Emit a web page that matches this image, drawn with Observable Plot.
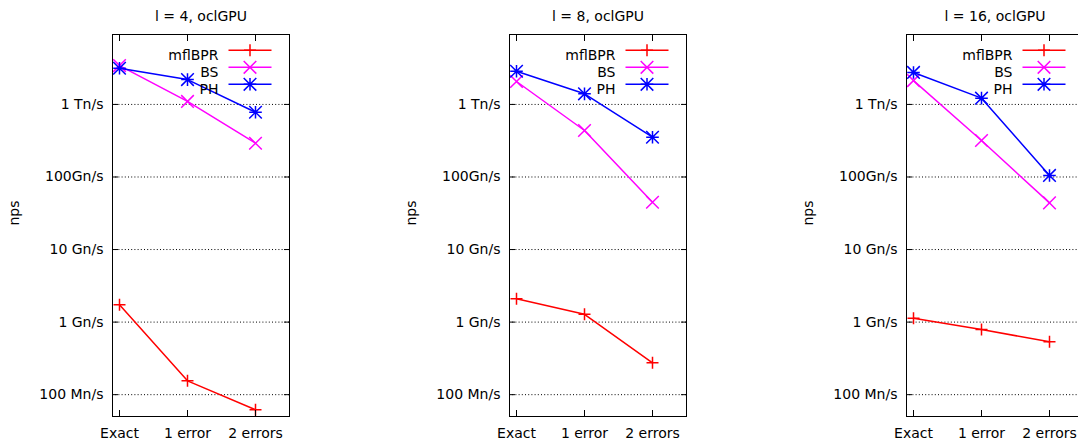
<!DOCTYPE html>
<html>
<head>
<meta charset="utf-8">
<script src="https://cdn.jsdelivr.net/npm/d3@7"></script>
<script src="https://cdn.jsdelivr.net/npm/@observablehq/plot@0.6"></script>
<style>
  html, body { margin: 0; padding: 0; background: white; }
  #wrap { position: relative; width: 1078px; height: 447px; overflow: hidden; background: white; }
  #wrap > div, #wrap > svg { position: absolute; top: 0; }
</style>
</head>
<body>
<div id="wrap"></div>
<script>
// ---- data ----
const categories = ["Exact", "1 error", "2 errors"];
const panelTitles = ["l = 4, oclGPU", "l = 8, oclGPU", "l = 16, oclGPU"];
const seriesNames = ["mflBPR", "BS", "PH"];
const seriesColors = ["#ff0000", "#ff00ff", "#0000ff"];

const l4_mflBPR = [1.73e9, 1.55e8, 6.2e7];
const l4_BS     = [3.43e12, 1.1e12, 2.92e11];
const l4_PH     = [3.15e12, 2.2e12, 7.8e11];

const l8_mflBPR = [2.1e9, 1.28e9, 2.75e8];
const l8_BS     = [2.07e12, 4.37e11, 4.49e10];
const l8_PH     = [2.87e12, 1.4e12, 3.53e11];

const l16_mflBPR = [1.13e9, 7.9e8, 5.35e8];
const l16_BS     = [2.13e12, 3.18e11, 4.4e10];
const l16_PH     = [2.76e12, 1.22e12, 1.05e11];

const yTicks = [1e8, 1e9, 1e10, 1e11, 1e12];
const yTickLabels = ["100 Mn/s", "1 Gn/s", "10 Gn/s", "100Gn/s", "1 Tn/s"];
const yLabel = "nps";
const yDomain = [5e7, 9.2e12];

const panelData = [
  [l4_mflBPR, l4_BS, l4_PH],
  [l8_mflBPR, l8_BS, l8_PH],
  [l16_mflBPR, l16_BS, l16_PH]
];

// ---- symbols (gnuplot-like point types) ----
const symPlus = {draw(ctx) { const h = 6; ctx.moveTo(-h, 0); ctx.lineTo(h, 0); ctx.moveTo(0, -h); ctx.lineTo(0, h); }};
const symTimes = {draw(ctx) { const h = 6.3; ctx.moveTo(-h, -h); ctx.lineTo(h, h); ctx.moveTo(-h, h); ctx.lineTo(h, -h); }};
const symStar = {draw(ctx) { const h = 6.3; ctx.moveTo(-h, 0); ctx.lineTo(h, 0); ctx.moveTo(0, -h); ctx.lineTo(0, h);
  ctx.moveTo(-h, -h); ctx.lineTo(h, h); ctx.moveTo(-h, h); ctx.lineTo(h, -h); }};
const symLine = {draw(ctx) { ctx.moveTo(-21.5, 0); ctx.lineTo(21.5, 0); }};
const seriesSymbols = [symPlus, symTimes, symStar];

const W = 397, H = 447;
const wrap = document.getElementById("wrap");

panelData.forEach((seriesArrays, p) => {
  const marks = [];
  marks.push(Plot.gridY(yTicks, {stroke: "#000", strokeOpacity: 1, strokeWidth: 1, strokeDasharray: "1,2.2"}));
  // series lines & points
  seriesArrays.forEach((arr, s) => {
    const rows = categories.map((c, i) => ({cat: c, value: arr[i]}));
    marks.push(Plot.line(rows, {x: "cat", y: "value", stroke: seriesColors[s], strokeWidth: 1.5}));
    marks.push(Plot.dot(rows, {x: "cat", y: "value", symbol: seriesSymbols[s], fill: "none", stroke: seriesColors[s], strokeWidth: 1.5}));
  });
  // legend
  seriesNames.forEach((name, s) => {
    const dy = 15.8 + 17 * s;
    marks.push(Plot.text([name], {frameAnchor: "top-right", dx: -71, dy, textAnchor: "end", fill: "#000", fontSize: 14}));
    marks.push(Plot.dot([name], {frameAnchor: "top-right", dx: -39.5, dy, symbol: symLine, fill: "none", stroke: seriesColors[s], strokeWidth: 1.5}));
    marks.push(Plot.dot([name], {frameAnchor: "top-right", dx: -39.5, dy, symbol: seriesSymbols[s], fill: "none", stroke: seriesColors[s], strokeWidth: 1.5}));
  });
  // inward ticks
  marks.push(Plot.axisX({anchor: "bottom", tickSize: 6, dy: -6, fill: "none", label: null}));
  marks.push(Plot.axisX({anchor: "top", tickSize: 6, dy: 6, fill: "none", label: null}));
  marks.push(Plot.axisY({anchor: "left", ticks: yTicks, tickSize: 6, dx: 6, fill: "none", label: null}));
  marks.push(Plot.axisY({anchor: "right", ticks: yTicks, tickSize: 6, dx: -6, fill: "none", label: null}));
  // labels
  marks.push(Plot.axisX({anchor: "bottom", tickSize: 0, tickPadding: 12, label: null, fill: "#000"}));
  marks.push(Plot.axisY({anchor: "left", ticks: yTicks, tickFormat: d => yTickLabels[yTicks.indexOf(d)], tickSize: 0, tickPadding: 9, label: null, fill: "#000"}));
  marks.push(Plot.frame({stroke: "#000", strokeWidth: 1}));
  marks.push(Plot.text([panelTitles[p]], {frameAnchor: "top", dy: -23.5, fill: "#000", fontSize: 14}));
  marks.push(Plot.text([yLabel], {frameAnchor: "left", dx: -98, rotate: -90, fill: "#000", fontSize: 14}));

  const chart = Plot.plot({
    width: W,
    height: H,
    marginLeft: 112,
    marginRight: W - 112 - 177,
    marginTop: 34,
    marginBottom: 31,
    x: {type: "point", domain: categories, padding: 0.3, align: 0.17},
    y: {type: "log", domain: yDomain},
    style: {fontFamily: "'DejaVu Sans', sans-serif", fontSize: "14px", color: "#000", background: "white", overflow: "visible"},
    marks
  });
  chart.style.position = "absolute";
  chart.style.left = (p * W) + "px";
  chart.style.top = "0px";
  wrap.appendChild(chart);
});
</script>
</body>
</html>
